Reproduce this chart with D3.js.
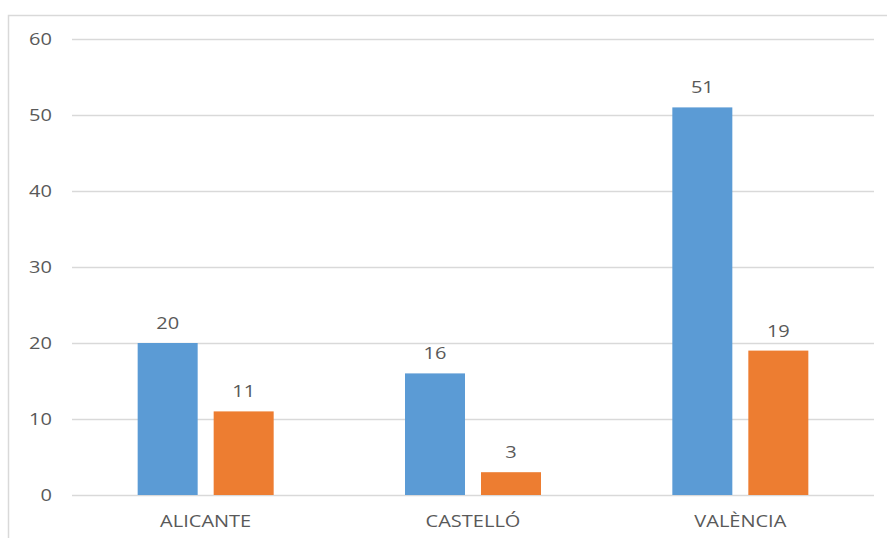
<!DOCTYPE html>
<html><head><meta charset="utf-8">
<script src="https://cdn.jsdelivr.net/npm/d3@7"></script>
<style>body{margin:0;background:#fff;} svg{display:block;}</style>
</head><body>
<svg id="c" width="887" height="538"></svg>
<script>
const categories = ["ALICANTE", "CASTELLÓ", "VALÈNCIA"];
const series = ["s1", "s2"];
const seriesA = [20, 16, 51];
const seriesB = [11, 3, 19];
const yTicks = [0, 10, 20, 30, 40, 50, 60];
const colors = ["#5B9BD5", "#ED7D31"];

(function() {
const svg = d3.select("#c");
const mLeft = 72, mRight = 874, mTop = 39, mBottom = 495;
const sx = 1.25;

// frame
svg.append("rect").attr("x", 8.5).attr("y", 15.5).attr("width", 900).attr("height", 600)
  .attr("fill", "none").attr("stroke", "#D9D9D9").attr("stroke-width", 1.5);

const y = d3.scaleLinear().domain([0, 60]).range([mBottom, mTop]);
const x0 = d3.scaleBand().domain(categories).range([mLeft, mRight]).paddingInner(0).paddingOuter(0);
const x1 = d3.scaleBand().domain(series).range([0, x0.bandwidth()]).paddingInner(16/76).paddingOuter(0.864);

// grid
svg.append("g").selectAll("line").data(yTicks).join("line")
  .attr("x1", mLeft).attr("x2", mRight)
  .attr("y1", d => Math.round(y(d)) + 0.5).attr("y2", d => Math.round(y(d)) + 0.5)
  .attr("stroke", "#D9D9D9").attr("stroke-width", 1.3);

const font = "'Open Sans', sans-serif";
function txt(g, x, yy, t, anchor) {
  g.append("text").attr("transform", `translate(${x},${yy}) scale(${sx},1)`)
    .attr("text-anchor", anchor).attr("font-family", font).attr("font-size", 16)
    .attr("fill", "#595959").text(t);
}

const tg = svg.append("g");
yTicks.forEach(d => txt(tg, 52, y(d) + 6, d, "end"));

const data = categories.map((c, i) => ({c, vals: [seriesA[i], seriesB[i]]}));
const groups = svg.append("g").selectAll("g").data(data).join("g")
  .attr("transform", d => `translate(${x0(d.c)},0)`);
groups.selectAll("rect").data(d => d.vals.map((v, j) => ({v, s: series[j], j}))).join("rect")
  .attr("x", d => x1(d.s)).attr("width", x1.bandwidth())
  .attr("y", d => y(d.v)).attr("height", d => y(0) - y(d.v))
  .attr("fill", d => colors[d.j]);
groups.each(function(d) {
  const g = d3.select(this);
  d.vals.forEach((v, j) => txt(g, x1(series[j]) + x1.bandwidth()/2, y(v) - 14, v, "middle"));
});

const cg = svg.append("g");
categories.forEach(c => txt(cg, x0(c) + x0.bandwidth()/2, 527, c, "middle"));
})();
</script>
</body></html>
